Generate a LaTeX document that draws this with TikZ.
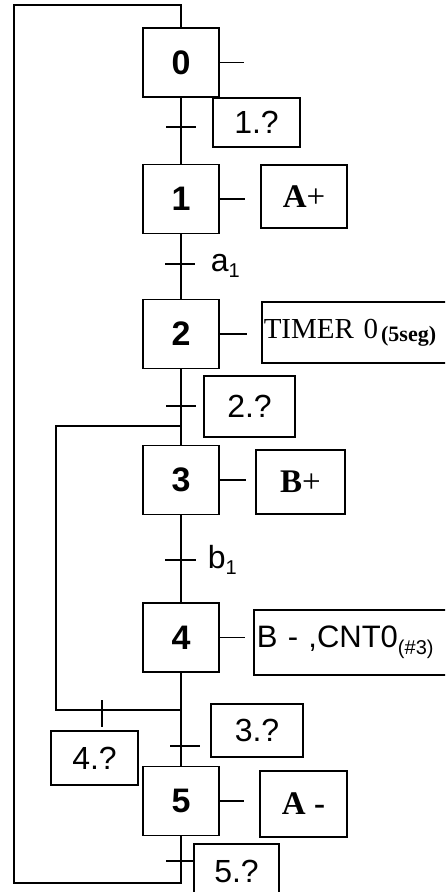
\documentclass[tikz,border=0pt]{standalone}
\usepackage{fontspec}
\setmainfont{Liberation Serif}
\setsansfont{Liberation Sans}
\begin{document}
\begin{tikzpicture}[x=1pt,y=-1pt,line width=1.5pt,
  stepbox/.style={draw,minimum width=76pt,minimum height=69pt,inner sep=0pt,font=\sffamily\bfseries\fontsize{34}{34}\selectfont},
  actbox/.style={draw,inner sep=0pt,font=\fontsize{33}{33}\selectfont},
  lbl/.style={draw,inner sep=0pt,font=\sffamily\fontsize{32}{32}\selectfont},
  cond/.style={font=\sffamily\fontsize{32}{32}\selectfont,anchor=west,inner sep=0pt},
  tick/.style={line width=1.5pt}]
\useasboundingbox (0,0) rectangle (445,892);
\clip (0,0) rectangle (445,892);
\fill[white] (0,0) rectangle (445,892);
% steps
\node[stepbox] (s0) at (181,62.5) {0};
\node[stepbox] (s1) at (181,199) {1};
\node[stepbox] (s2) at (181,334) {2};
\node[stepbox] (s3) at (181,480) {3};
\node[stepbox] (s4) at (181,637.5) {4};
\node[stepbox] (s5) at (181,801) {5};
% actions
\node[actbox,minimum width=86pt,minimum height=63pt] (a1) at (304,196.5) {\textbf{A}+};
\node[actbox,anchor=west,minimum height=61pt,text width=186pt,inner xsep=2pt,align=left,font=\fontsize{29}{29}\selectfont] (a2) at (261,332.5) {TIMER 0\hspace{3pt}\raisebox{-3pt}{\bfseries\fontsize{22}{22}\selectfont(5seg)}};
\node[actbox,minimum width=89pt,minimum height=64pt] (a3) at (300.5,482) {\textbf{B}+};
\node[actbox,anchor=west,minimum height=65pt,text width=196pt,inner xsep=3pt,align=left,font=\sffamily\fontsize{31}{31}\selectfont] (a4) at (253,642.5) {B - ,CNT0\raisebox{-7pt}{\fontsize{20}{20}\selectfont(\#3)}};
\node[actbox,minimum width=87pt,minimum height=66pt] (a5) at (303.5,804) {\textbf{A -}};
% action stubs
\draw (s0.east) -- ++(24,0);
\draw (s1.east) -- ++(25,0);
\draw (s2.east) -- ++(27,0);
\draw (s3.east) -- ++(26,0);
\draw (s4.east) -- ++(25,0);
\draw (s5.east) -- ++(24,0);
% main line
\draw (s0) -- (s1);
\draw (s1) -- (s2);
\draw (s2) -- (s3);
\draw (s3) -- (s4);
\draw (s4) -- (s5);
% junctions
\coordinate (j3) at (181,426);
\coordinate (j4) at (181,710);
\coordinate (b3) at (56,426);
\coordinate (b4) at (56,710);
\draw (j4) -- (b4) -- (b3) -- (j3);
% outer loop
\coordinate (l1) at (181,883);
\coordinate (l2) at (14,883);
\coordinate (l3) at (14,5);
\coordinate (l4) at (181,5);
\draw (s5.south) -- (l1) -- (l2) -- (l3) -- (l4) -- (s0.north);
% transitions ticks
\draw[tick] (166,127) -- (196,127);
\draw[tick] (165,264) -- (195,264);
\draw[tick] (166,406) -- (196,406);
\draw[tick] (165,560) -- (196,560);
\draw[tick] (170,746) -- (200,746);
\draw[tick] (166,861) -- (194,861);
\draw[tick] (102,700) -- (102,727);
% transition labels
\node[lbl,minimum width=87pt,minimum height=49pt] (t1) at (256.5,122.5) {1.?};
\node[cond] (c1) at (210,266) {a\raisebox{-6pt}{\fontsize{20}{20}\selectfont 1}};
\node[lbl,minimum width=91pt,minimum height=61pt] (t2) at (249.5,406.5) {2.?};
\node[cond] (c2) at (207,560) {b\raisebox{-6pt}{\fontsize{20}{20}\selectfont 1}};
\node[lbl,minimum width=92pt,minimum height=53pt] (t3) at (257,730.5) {3.?};
\node[lbl,minimum width=87pt,minimum height=54pt] (t4) at (94.5,758) {4.?};
\node[lbl,minimum width=85pt,minimum height=56pt,anchor=north] (t5) at (236.5,843) {5.?};
\end{tikzpicture}
\end{document}
